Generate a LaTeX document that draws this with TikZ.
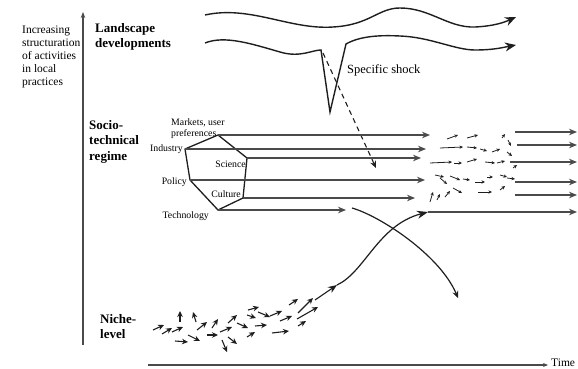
\documentclass[tikz,border=0pt]{standalone}
\usepackage{fontspec}
\setmainfont{Liberation Serif}
\usetikzlibrary{arrows.meta,positioning}
\definecolor{mlgrey}{HTML}{4A4A4A}
\definecolor{mlink}{HTML}{1E1E1E}

\begin{document}
\begin{tikzpicture}[x=1pt,y=-1pt,
  lvl/.style={font=\fontsize{13}{15.5}\selectfont\bfseries,align=left,inner sep=0pt,anchor=north west},
  axlab/.style={font=\fontsize{11.5}{13}\selectfont,align=left,inner sep=0pt,anchor=north west},
  rlab/.style={font=\fontsize{9.8}{11}\selectfont,align=left,inner sep=0pt},
  axis/.style={-{Stealth[length=6pt,width=4.5pt]},mlgrey,line width=1.6pt},
  taxis/.style={-{Stealth[length=5pt,width=4pt]},mlgrey,line width=1.1pt,shorten >=3pt},
  wave/.style={-{Stealth[length=11pt,width=9pt]},mlink,line width=1.4pt},
  hexa/.style={mlink,line width=1.3pt,line join=miter},
  regarr/.style={-{Stealth[length=8pt,width=6.5pt]},mlgrey,line width=1.5pt},
  curv/.style={mlink,line width=1.2pt},
  nich/.style={-{Stealth[length=6pt,width=5.5pt]},mlink,line width=1.1pt},
  tiny/.style={-{Stealth[length=3.5pt,width=3.2pt]},mlink,line width=0.8pt},
  shockarr/.style={-{Stealth[length=7pt,width=6pt]},mlink,line width=1.1pt,dash pattern=on 5pt off 4pt}]
\useasboundingbox (0,0) rectangle (578,369);

% axes and level names
\coordinate (y0) at (83,345);
\coordinate (y1) at (83,12);
\draw[axis] (y0) -- (y1);
\node[axlab] (inc) at (22,26) {Increasing\\structuration\\of activities\\in local\\practices};
\node[lvl] (land) at (95,23) {Landscape\\developments};
\node[lvl] (reg) at (89,120) {Socio-\\technical\\regime};
\node[lvl] (nic) at (100,314) {Niche-\\level};
\node[axlab,anchor=west] (tm) at (551,363) {Time};
\coordinate (t0) at (148,365);
\draw[taxis] (t0) -- (tm.west |- t0);

% landscape
\draw[wave] (205,15) .. controls (250,5) and (290,30) .. (333,27)
  .. controls (370,25) and (378,8) .. (400,8)
  .. controls (430,8) and (448,28) .. (475,27)
  .. controls (495,26) and (505,22) .. (516,17);
\coordinate (spike) at (321,50);
\draw[wave] (205,43) .. controls (225,35) and (252,44) .. (280,52)
  .. controls (300,58) and (312,50) .. (spike) -- (330,112) -- (346,44)
  .. controls (360,36) and (380,35) .. (400,36)
  .. controls (430,37) and (455,50) .. (475,50)
  .. controls (495,50) and (505,47) .. (516,45);
\node[axlab,anchor=west,font=\fontsize{12.5}{14}\selectfont] (shock) at (347,70) {Specific shock};
\coordinate (shkend) at (376,168);
\draw[shockarr] (spike) ++(2,3) -- (shkend);

% regime
\coordinate (mk) at (218,135);
\coordinate (sci) at (247,158);
\coordinate (cul) at (243,198);
\coordinate (tec) at (218,210);
\coordinate (pol) at (190,180);
\coordinate (ind) at (185,149);
\draw[hexa] (mk) -- (sci) -- (cul) -- (tec) -- (pol) -- (ind) -- cycle;
\node[rlab,anchor=north west] (mkl) at (171,118) {Markets, user\\preferences};
\node[rlab,left=2pt of ind] (indl) {Industry};
\node[rlab,anchor=east] (scil) at (246,164) {Science};
\node[rlab,left=3pt of pol,yshift=-2pt] (poll) {Policy};
\node[rlab,anchor=east] (cull) at (241,194) {Culture};
\node[rlab,anchor=east] (tecl) at (209,216) {Technology};
\foreach \v/\l in {mk/212,ind/241,sci/174,pol/235,cul/172,tec/128}
  \draw[regarr] (\v) -- ++(\l,0);
\foreach \xa/\yy in {515/132,517/145,510/162,515/182,515/195}
  \draw[regarr] (\xa,\yy) -- (577,\yy);

% transition
\coordinate (old) at (352,208);
\coordinate (oldend) at (458,298);
\draw[curv,-{Stealth[length=7pt,width=6pt]}] (old) .. controls (380,216) and (440,255) .. (oldend);
\coordinate (nh) at (337,285);
\coordinate (brk) at (428,212);
\draw[curv,-{Stealth[length=11pt,width=8pt]}] (nh) .. controls (365,272) and (378,225) .. (brk);
\draw[regarr] (brk) -- (577,212);
\foreach \a/\b/\c/\d in {447/139/458/135,467/138/478/135,502/138/505/134,508/140/511/146,
  440/148/463/147,467/147/477/148,480/149/487/151,492/152/500/149,507/152/512/156,
  430/163/452/162,454/163/462/163,467/162/477/159,485/162/495/163,497/163/505/161,513/168/517/165,
  435/175/444/177,450/176/460/180,463/179/470/180,475/182/485/182,487/177/493/177,
  500/175/507/177,507/178/515/179,478/192/492/192,500/190/505/186,440/178/447/184,
  453/188/462/193,430/202/433/192,437/200/440/194,445/197/450/191}
  \draw[tiny] (\a,\b) -- (\c,\d);

% niches
\foreach \a/\b/\c/\d in {153/330/164/325,162/334/172/328,172/332/183/327,180/322/180/311,
  175/341/188/342,188/335/200/341,197/330/207/322,196/322/193/312,207/335/218/335,
  212/328/218/319,220/332/232/327,222/340/227/352,228/323/237/315,228/337/237/344,
  237/323/248/328,247/337/255/332,248/310/259/307,247/315/256/318,255/326/267/325,
  258/312/270/317,270/316/282/311,272/333/289/331,280/321/292/316,289/305/298/299,
  298/313/313/298,297/319/318/307,298/326/306/321}
  \draw[nich] (\a,\b) -- (\c,\d);
\coordinate (nt) at (315,300);
\draw[nich,-{Stealth[length=9pt,width=7pt]}] (nt) -- (nh);
\end{tikzpicture}
\end{document}
